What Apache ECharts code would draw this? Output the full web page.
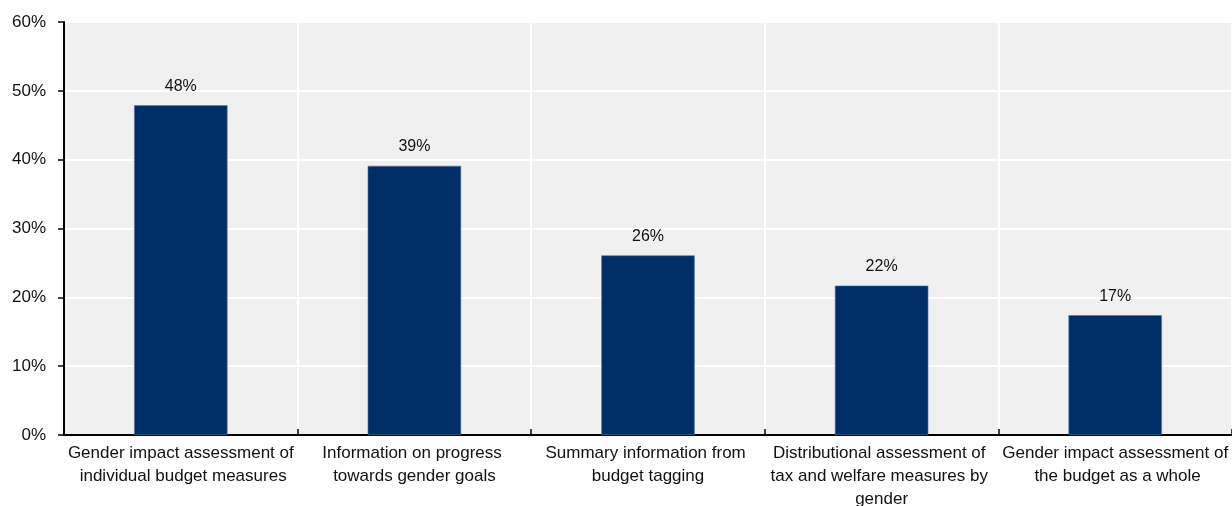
<!DOCTYPE html>
<html>
<head>
<meta charset="utf-8">
<script src="https://cdn.jsdelivr.net/npm/echarts@6/dist/echarts.min.js"></script>
<style>
html,body{margin:0;padding:0;background:#fff}
#Chart{width:1232px;height:506px}
</style>
</head>
<body>
<div id="Chart"></div>
<script>
var categories=[
    "Gender impact assessment of individual budget measures",
    "Information on progress towards gender goals",
    "Summary information from budget tagging",
    "Distributional assessment of tax and welfare measures by gender",
    "Gender impact assessment of the budget as a whole"
]
var values=[47.9,39.1,26.1,21.7,17.4]
var yTicks=[0,10,20,30,40,50,60]

var font='"Liberation Sans",Arial,sans-serif'

//图表
function drawChar(){
    var myChart=echarts.init(document.getElementById('Chart'))
    var option={
        animation:false,
        grid:{left:64,right:0,top:22,bottom:71,outerBoundsMode:'none',containLabel:false,
            show:true,backgroundColor:'#f0f0f0',borderWidth:0},
        xAxis:{
            type:'category',
            data:categories,
            axisLine:{lineStyle:{color:'#000',width:2}},
            axisTick:{show:true,inside:true,length:6,lineStyle:{color:'#000',width:1.5}},
            splitLine:{show:true,lineStyle:{color:'#fff',width:2}},
            axisLabel:{
                interval:0,color:'#111',fontFamily:font,fontSize:17,lineHeight:23,
                margin:7,width:226,overflow:'break'
            }
        },
        yAxis:{
            type:'value',
            min:yTicks[0],max:yTicks[yTicks.length-1],interval:10,
            axisLine:{show:true,lineStyle:{color:'#000',width:2}},
            axisTick:{show:true,length:6,lineStyle:{color:'#000',width:1.5}},
            splitLine:{show:true,lineStyle:{color:'#fff',width:2}},
            axisLabel:{color:'#111',fontFamily:font,fontSize:17,margin:18,
                formatter:function(v){return v+'%'}}
        },
        series:[{
            type:'bar',
            data:values,
            barWidth:'40%',
            itemStyle:{color:'#002f67',borderColor:'#5a78a0',borderWidth:0.6},
            label:{show:true,position:'top',distance:11,color:'#111',
                fontFamily:font,fontSize:16,
                formatter:function(p){return Math.round(p.value)+'%'}}
        }]
    }
    myChart.setOption(option)
}

drawChar()
</script>
</body>
</html>
